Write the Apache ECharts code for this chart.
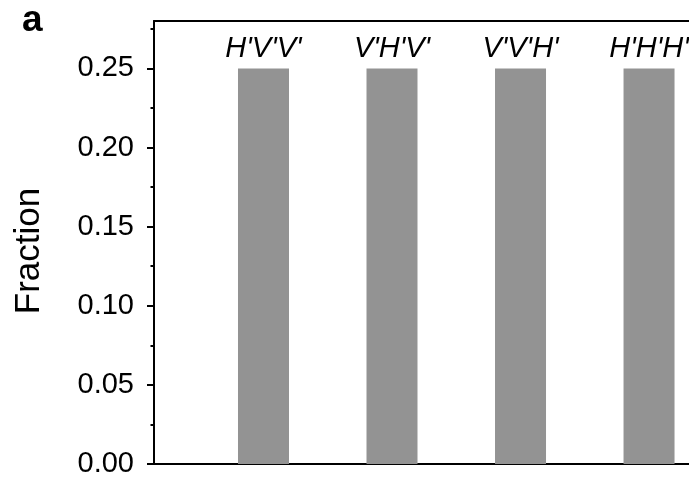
<!DOCTYPE html>
<html>
<head>
<meta charset="utf-8">
<script src="https://cdn.jsdelivr.net/npm/echarts@6/dist/echarts.min.js"></script>
<style>html,body{margin:0;padding:0;background:#fff}#c{width:689px;height:484px}</style>
</head>
<body>
<div id="c"></div>
<script>
var categories = ["H'V'V'", "V'H'V'", "V'V'H'", "H'H'H'"];
var positions = [1, 2, 3, 4];
var fractions = [0.25, 0.25, 0.25, 0.25];
var majorTicks = [0, 0.05, 0.10, 0.15, 0.20, 0.25];
var minorTicks = [0.025, 0.075, 0.125, 0.175, 0.225, 0.275];

var FONT = 'Liberation Sans, Arial, Helvetica, sans-serif';
var chart = echarts.init(document.getElementById('c'), null, {renderer: 'canvas'});
var lineStyle = {color: '#000', width: 2};
chart.setOption({
  animation: false,
  backgroundColor: '#fff',
  title: {text: 'a', left: 17, top: -3, textStyle: {fontFamily: FONT, fontSize: 37, fontWeight: 'bold', color: '#000'}},
  graphic: [{
    type: 'text', x: 29, y: 251, rotation: Math.PI / 2,
    style: {text: 'Fraction', fontFamily: FONT, fontSize: 35, fill: '#000', align: 'center', verticalAlign: 'middle'}
  }],
  grid: {left: 154, right: 0, top: 21, bottom: 20, containLabel: false},
  xAxis: [
    {type: 'value', position: 'bottom', min: 0.148, max: 4.311,
     axisLine: {show: true, lineStyle: lineStyle}, axisTick: {show: false}, axisLabel: {show: false}, splitLine: {show: false}},
    {type: 'value', position: 'top', min: 0.148, max: 4.311,
     axisLine: {show: true, onZero: false, lineStyle: lineStyle}, axisTick: {show: false}, axisLabel: {show: false}, splitLine: {show: false}}
  ],
  yAxis: [
    {type: 'value', min: 0, max: 0.28, interval: 0.05, position: 'left',
     axisLine: {show: true, onZero: false, lineStyle: lineStyle},
     axisTick: {show: true, length: 7, lineStyle: lineStyle, customValues: majorTicks},
     axisLabel: {show: true, margin: 20, fontFamily: FONT, fontSize: 29, color: '#000', customValues: majorTicks,
       formatter: function (v) { return v.toFixed(2); }},
     splitLine: {show: false}},
    {type: 'value', min: 0, max: 0.28, interval: 0.025, position: 'left',
     axisLine: {show: false},
     axisTick: {show: true, length: 3.5, lineStyle: lineStyle, customValues: minorTicks},
     axisLabel: {show: false}, splitLine: {show: false}}
  ],
  series: [{
    type: 'bar', xAxisIndex: 0, yAxisIndex: 0, barWidth: 51,
    itemStyle: {color: '#939393'},
    label: {show: true, position: 'top', distance: 5, fontFamily: FONT, fontSize: 29, fontStyle: 'italic', color: '#000',
      formatter: function (p) { return categories[p.dataIndex]; }},
    data: positions.map(function (x, i) { return [x, fractions[i]]; })
  }]
});
</script>
</body>
</html>
